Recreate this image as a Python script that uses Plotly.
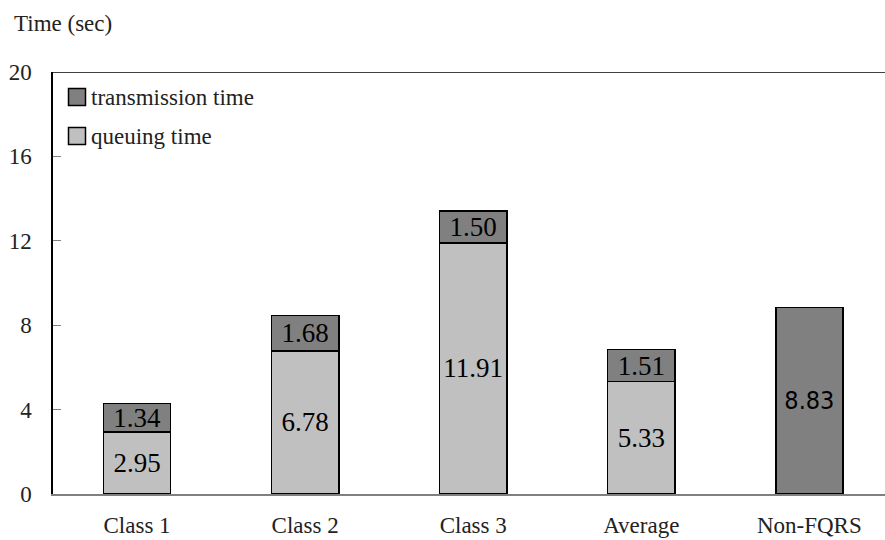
import plotly.graph_objects as go

categories = ["Class 1", "Class 2", "Class 3", "Average", "Non-FQRS"]
queuing = [2.95, 6.78, 11.91, 5.33, None]
transmission = [1.34, 1.68, 1.50, 1.51, 8.83]
y_ticks = [0, 4, 8, 12, 16, 20]

SERIF = "Liberation Serif"
SANS = "DejaVu Sans Condensed"
DARK = "#808080"
LIGHT = "#C0C0C0"
TXT = "#222222"

W, H = 885, 540
ML, MR, MT, MB = 53, 0, 72, 46

fig = go.Figure()
fig.add_trace(go.Bar(
    x=categories, y=queuing, name="queuing time",
    marker=dict(color=LIGHT, line=dict(color="#000000", width=1.6)),
    width=0.40,
    text=[("%.2f" % v) if v is not None else "" for v in queuing],
    textposition="inside", insidetextanchor="middle", constraintext="none",
    textangle=0,
    textfont=dict(family=SERIF, size=27, color="#000000"),
    showlegend=False,
))
fig.add_trace(go.Bar(
    x=categories, y=transmission, name="transmission time",
    marker=dict(color=DARK, line=dict(color="#000000", width=1.6)),
    width=0.40,
    text=["%.2f" % v for v in transmission],
    textposition="inside", insidetextanchor="middle", constraintext="none",
    textangle=0,
    textfont=dict(family=[SERIF] * 4 + [SANS], size=[27] * 4 + [25], color="#000000"),
    showlegend=False,
))

fig.update_layout(
    width=W, height=H,
    margin=dict(l=ML, r=MR, t=MT, b=MB),
    barmode="stack",
    plot_bgcolor="white", paper_bgcolor="white",
    font=dict(family=SERIF, size=23, color=TXT),
    xaxis=dict(
        range=[-0.5, 4.45], showgrid=False, zeroline=False,
        showline=True, linecolor=DARK, linewidth=1.5,
        ticks="", tickfont=dict(size=23, family=SERIF, color=TXT),
        ticklabelstandoff=10,
    ),
    yaxis=dict(
        range=[0, 20], tickvals=y_ticks, showgrid=False, zeroline=False,
        showline=True, linecolor="#000000", linewidth=1.5,
        ticks="inside", ticklen=8, tickcolor=DARK, tickwidth=1,
        tickfont=dict(size=23, family=SERIF, color=TXT),
        ticklabelstandoff=15,
    ),
    showlegend=False,
)

# top frame line
fig.add_shape(type="line", xref="paper", yref="y", x0=0, x1=1, y0=20, y1=20,
              line=dict(color="#000000", width=1.5))

pw = W - ML - MR
ph = H - MT - MB
def px_x(px):
    return (px - ML) / pw
def px_y(py):
    return 1 - (py - MT) / ph

# axis title
fig.add_annotation(text="Time (sec)", xref="paper", yref="paper",
                   x=px_x(12), xanchor="left", y=px_y(24), yanchor="middle",
                   showarrow=False, font=dict(family=SERIF, size=23, color=TXT))

# manual legend
legend_items = [("transmission time", DARK, 97), ("queuing time", LIGHT, 136)]
for label, color, cy in legend_items:
    fig.add_shape(type="rect", xref="paper", yref="paper",
                  x0=px_x(68.5), x1=px_x(85.5), y0=px_y(cy - 8.5), y1=px_y(cy + 8.5),
                  fillcolor=color, line=dict(color="#000000", width=1.5))
    fig.add_annotation(text=label, xref="paper", yref="paper",
                       x=px_x(89), xanchor="left", y=px_y(cy), yanchor="middle",
                       showarrow=False, font=dict(family=SERIF, size=23, color=TXT))

fig.write_html("out.html")
